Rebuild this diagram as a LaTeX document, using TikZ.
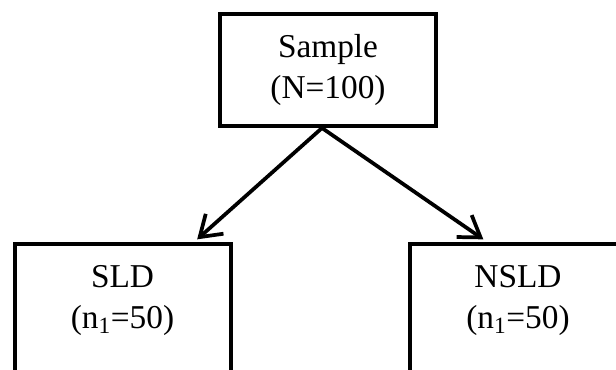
\documentclass[tikz,border=0pt]{standalone}
\usepackage{fontspec}
\setmainfont{Liberation Serif}
\usetikzlibrary{arrows.meta,positioning}

\begin{document}
\begin{tikzpicture}[x=0.75pt, y=-0.75pt, every node/.style={font=\fontsize{25}{31}\selectfont}, box/.style={draw=black,line width=3pt,minimum width=162pt,align=center}, arr/.style={-{Straight Barb[length=15pt,width=20pt]},line width=2.8pt,draw=black}]
\useasboundingbox (0,0) rectangle (616,370);
\clip (0,0) rectangle (616,370);
\node[box,minimum height=84pt] (sample) at (328,70) {Sample\\(N=100)};
\node[box,minimum height=96.5pt,text depth=17pt,anchor=north] (sld) at (122.5,242) {SLD\\(n\textsubscript{1}=50)};
\node[box,minimum height=96.5pt,text depth=17pt,anchor=north] (nsld) at (518,242) {NSLD\\(n\textsubscript{1}=50)};
\coordinate (split) at ([xshift=-4.5pt]sample.south);
\draw[arr] (split) -- ([xshift=56pt,yshift=2pt]sld.north);
\draw[arr] (split) -- ([xshift=-26pt,yshift=2pt]nsld.north);
\end{tikzpicture}
\end{document}
